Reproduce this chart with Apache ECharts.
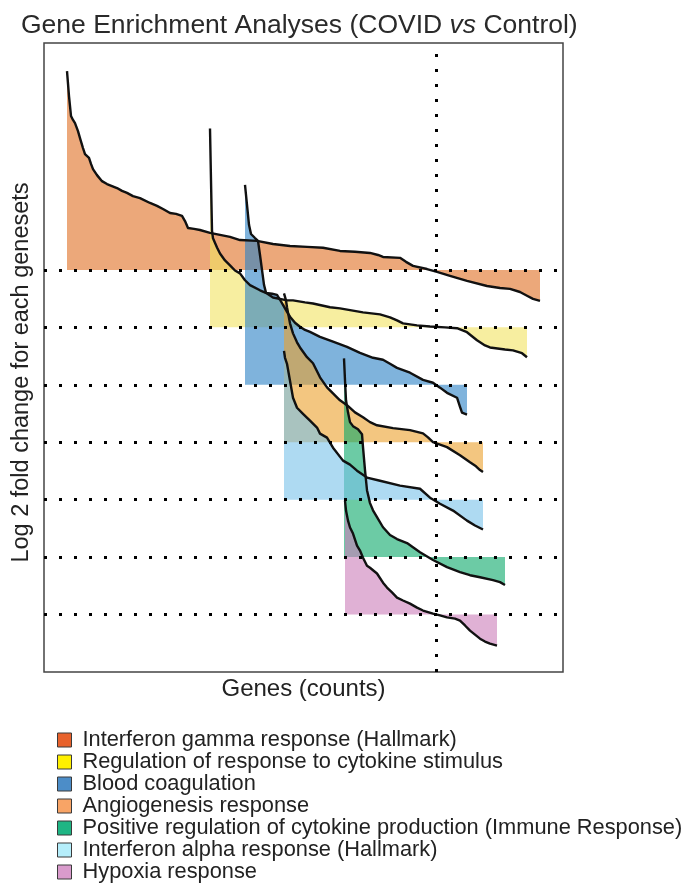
<!DOCTYPE html>
<html>
<head>
<meta charset="utf-8">
<script src="https://cdn.jsdelivr.net/npm/echarts@6/dist/echarts.min.js"></script>
<style>
  html, body { margin: 0; padding: 0; background: #ffffff; }
  #chart { width: 684px; height: 883px; }
</style>
</head>
<body>
<div id="chart"></div>
<script>
// Gene sets, in legend order
const genesets = [
  'Interferon gamma response (Hallmark)',
  'Regulation of response to cytokine stimulus',
  'Blood coagulation',
  'Angiogenesis response',
  'Positive regulation of cytokine production (Immune Response)',
  'Interferon alpha response (Hallmark)',
  'Hypoxia response'
];

// Row (from the top) in which each gene set is drawn
const laneOfGeneset = [0, 1, 2, 3, 5, 4, 6];

// Ranked genes: [gene rank, log2 fold change] for each gene set
const ifnGamma = [
  [23, 6.92], [25, 6.05], [27, 5.36], [29, 5.22], [31, 5.11], [34, 4.83], [36, 4.59], [39, 4.24],
  [41, 4.03], [45, 3.90], [47, 3.69], [49, 3.51], [53, 3.30], [58, 3.09], [63, 2.99], [68, 2.92],
  [73, 2.85], [78, 2.75], [83, 2.68], [89, 2.57], [96, 2.50], [106, 2.33], [113, 2.23], [119, 2.12],
  [126, 1.98], [132, 1.95], [138, 1.88], [141, 1.70], [144, 1.46], [150, 1.43], [156, 1.39],
  [166, 1.29], [176, 1.22], [186, 1.15], [196, 1.04], [213, 1.01], [229, 0.90], [246, 0.83],
  [263, 0.80], [279, 0.77], [296, 0.66], [311, 0.63], [326, 0.59], [334, 0.52], [339, 0.45],
  [356, 0.42], [362, 0.28], [369, 0.14], [383, 0.03], [393, -0.07], [406, -0.21], [423, -0.38],
  [443, -0.56], [456, -0.63], [466, -0.66], [476, -0.77], [483, -0.90], [489, -1.01], [496, -1.08]
];
const cytokineRegulation = [
  [166, 6.92], [167, 5.11], [168, 3.37], [169, 3.10], [173, 2.78], [176, 2.57], [181, 2.33],
  [186, 2.16], [191, 1.98], [196, 1.88], [201, 1.64], [206, 1.47], [216, 1.29], [223, 1.18],
  [229, 1.04], [243, 0.94], [249, 0.94], [261, 0.87], [269, 0.83], [286, 0.70], [296, 0.66],
  [319, 0.52], [336, 0.45], [346, 0.35], [353, 0.24], [359, 0.14], [373, 0.07], [386, 0.03],
  [401, 0.00], [413, -0.03], [423, -0.17], [428, -0.31], [433, -0.45], [441, -0.63], [446, -0.70],
  [461, -0.77], [469, -0.80], [478, -0.90], [483, -1.04]
];
const bloodCoagulation = [
  [201, 6.96], [203, 6.26], [205, 5.57], [207, 5.25], [211, 5.11], [214, 5.01], [216, 4.52],
  [218, 4.00], [220, 3.48], [222, 3.20], [228, 3.17], [233, 3.13], [236, 2.96], [239, 2.78],
  [243, 2.54], [246, 2.37], [251, 2.16], [256, 2.02], [261, 1.91], [266, 1.84], [276, 1.67],
  [289, 1.50], [303, 1.32], [316, 1.11], [329, 0.94], [339, 0.87], [346, 0.73], [353, 0.59],
  [366, 0.42], [379, 0.17], [389, 0.07], [396, -0.10], [403, -0.28], [413, -0.45], [416, -0.77],
  [418, -0.97], [423, -1.04]
];
const angiogenesis = [
  [240, 5.18], [242, 4.94], [243, 4.70], [246, 4.14], [249, 3.79], [253, 3.48], [256, 3.30],
  [263, 2.96], [269, 2.75], [276, 2.26], [283, 1.91], [289, 1.70], [296, 1.46], [303, 1.29],
  [311, 1.04], [319, 0.87], [326, 0.70], [333, 0.59], [349, 0.49], [366, 0.42], [379, 0.31],
  [384, 0.17], [389, 0.00], [403, -0.17], [416, -0.45], [426, -0.70], [432, -0.84], [436, -0.97],
  [439, -1.04]
];
const cytokineProduction = [
  [300, 6.92], [301, 6.16], [302, 5.46], [304, 5.04], [306, 4.70], [309, 4.56], [314, 4.45],
  [318, 4.28], [319, 3.83], [321, 3.03], [323, 2.33], [326, 1.88], [329, 1.63], [333, 1.39],
  [339, 1.04], [346, 0.77], [353, 0.63], [363, 0.49], [376, 0.17], [389, -0.10], [403, -0.35],
  [416, -0.52], [426, -0.63], [436, -0.70], [449, -0.80], [456, -0.87], [461, -0.97]
];
const ifnAlpha = [
  [240, 5.18], [241, 4.94], [243, 4.73], [246, 4.14], [249, 3.55], [253, 3.20], [259, 2.99],
  [266, 2.75], [273, 2.51], [276, 2.30], [283, 2.16], [289, 1.81], [299, 1.36], [306, 1.22],
  [313, 1.01], [323, 0.77], [336, 0.66], [356, 0.49], [376, 0.38], [386, 0.07], [396, -0.14],
  [409, -0.38], [423, -0.73], [431, -0.90], [439, -1.04]
];
const hypoxia = [
  [301, 3.97], [302, 3.62], [304, 3.27], [306, 3.03], [309, 2.82], [313, 2.40], [316, 2.23],
  [319, 1.98], [323, 1.70], [326, 1.63], [333, 1.43], [339, 1.11], [343, 0.94], [348, 0.77],
  [353, 0.59], [359, 0.49], [366, 0.38], [373, 0.24], [379, 0.14], [389, 0.03], [396, -0.03],
  [403, -0.10], [411, -0.14], [416, -0.21], [421, -0.38], [426, -0.56], [431, -0.70], [436, -0.84],
  [441, -0.94], [446, -1.01], [453, -1.08]
];
const genesetValues = [ifnGamma, cytokineRegulation, bloodCoagulation, angiogenesis,
  cytokineProduction, ifnAlpha, hypoxia];

// Rank where the fold change turns negative
const cutoffRank = 392;

// Axis extents
const rankMax = 519;
const laneGap = 2;        // log2 units between stacked rows
const laneCount = 7;

// Colours: solid key swatches and translucent area fills
const swatchColors = ['#e8622c', '#fff000', '#4c8dc8', '#f8a466', '#1fb584', '#b5eefb', '#d99bcc'];
const fillColors = [
  'rgba(223,110,33,0.6)', 'rgba(242,227,97,0.6)', 'rgba(42,128,197,0.6)', 'rgba(235,160,43,0.6)',
  'rgba(10,168,105,0.6)', 'rgba(120,193,233,0.6)', 'rgba(203,125,185,0.6)'
];

const FONT = '"Liberation Sans", Arial, Helvetica, sans-serif';

const laneBase = lane => (laneCount - 1 - lane) * laneGap;
const baselines = [];
for (let k = 0; k < laneCount; k++) baselines.push(laneBase(k));

const series = [];
genesets.forEach((name, i) => {
  const base = laneBase(laneOfGeneset[i]);
  const pts = genesetValues[i].map(([r, v]) => [r, base + v]);
  // translucent area between the curve and the row's zero line
  series.push({
    name, type: 'line', data: pts, showSymbol: false, silent: true, z: 2,
    lineStyle: { width: 0 },
    itemStyle: { color: swatchColors[i] },
    areaStyle: { origin: base, color: fillColors[i], opacity: 1 }
  });
  // ranked fold-change curve
  series.push({
    name, type: 'line', data: pts, showSymbol: false, silent: true, z: 4,
    itemStyle: { color: swatchColors[i] },
    lineStyle: { color: '#111', width: 2.4, join: 'round' }
  });
});

// dotted zero lines for each row and the cutoff rank
series.push({
  name: 'guides', type: 'line', data: [], z: 5, silent: true,
  markLine: {
    silent: true, animation: false, symbol: ['none', 'none'],
    label: { show: false },
    lineStyle: { color: '#000', type: [3, 12], width: 3, cap: 'butt' },
    data: baselines.map(b => ({ yAxis: b })).concat([{ xAxis: cutoffRank }])
  }
});

const chart = echarts.init(document.getElementById('chart'), null, { renderer: 'canvas' });
chart.setOption({
  animation: false,
  backgroundColor: '#ffffff',
  title: {
    text: '{a|Gene Enrichment Analyses (COVID }{b|vs}{a| Control)}',
    left: 21, top: 12, padding: 0,
    textStyle: {
      fontWeight: 'normal',
      rich: {
        a: { fontFamily: FONT, fontSize: 26.5, fontWeight: 'normal', color: '#2a2a2a' },
        b: { fontFamily: FONT, fontSize: 26.5, fontWeight: 'normal', color: '#2a2a2a', fontStyle: 'italic' }
      }
    }
  },
  grid: {
    left: 44, top: 43, width: 519, height: 629,
    show: true, borderColor: '#444', borderWidth: 1.5, backgroundColor: 'transparent'
  },
  xAxis: {
    type: 'value', min: 0, max: rankMax,
    name: 'Genes (counts)', nameLocation: 'middle', nameGap: 5,
    nameTextStyle: { fontFamily: FONT, fontSize: 24, color: '#222', verticalAlign: 'top' },
    axisLine: { show: false }, axisTick: { show: false }, axisLabel: { show: false },
    splitLine: { show: false }
  },
  yAxis: {
    type: 'value', min: -laneGap, max: 19.9,
    name: 'Log 2 fold change for each genesets', nameLocation: 'middle', nameGap: 10,
    nameTextStyle: { fontFamily: FONT, fontSize: 23.5, color: '#222', padding: [0, 30, 0, 0] },
    axisLine: { show: false }, axisTick: { show: false }, axisLabel: { show: false },
    splitLine: { show: false }
  },
  legend: {
    orient: 'vertical', left: 57, top: 729, height: 170, padding: 0,
    itemWidth: 14, itemHeight: 14, itemGap: 0,
    selectedMode: false,
    textStyle: { fontFamily: FONT, fontSize: 21.8, color: '#222', lineHeight: 21.7, padding: [0, 0, 0, 6] },
    data: genesets.map((name, i) => ({
      name, icon: 'rect',
      itemStyle: { color: swatchColors[i], borderColor: '#3a3a3a', borderWidth: 1 }
    }))
  },
  series
});
</script>
</body>
</html>
